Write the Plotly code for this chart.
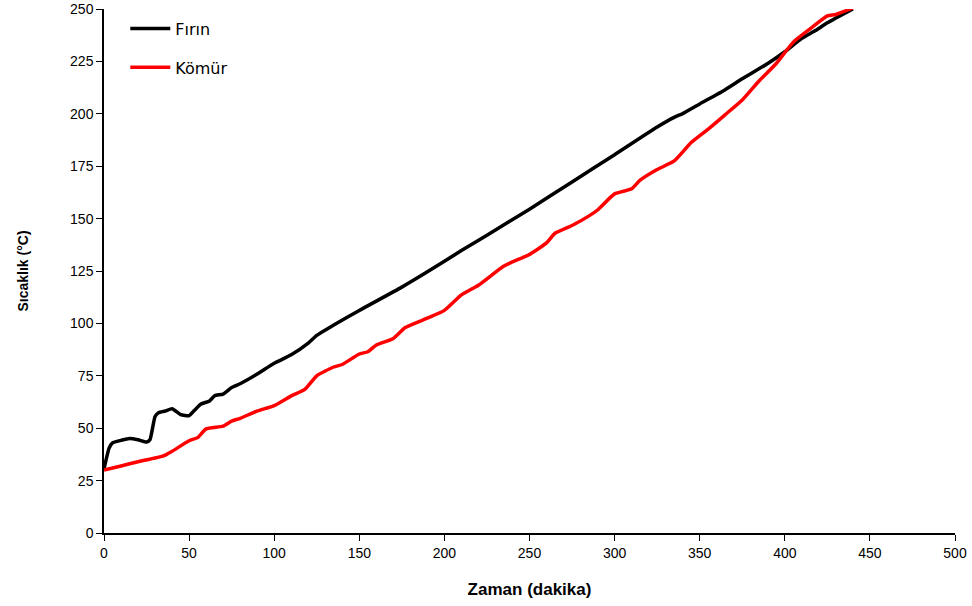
import plotly.graph_objects as go

# Fırın (oven) series
firin_x = [0, 3, 5, 10, 15, 20, 25, 27, 30, 32, 36, 40, 45, 50, 53, 57, 62, 65, 70, 75, 80, 90, 100,
           110, 120, 125, 135, 150, 175, 200, 210, 225, 250, 275, 300, 325, 335, 340, 350, 365, 375,
           390, 400, 410, 418, 425, 440]
firin_y = [30.5, 40.5, 43, 44.2, 45.1, 44.5, 43.4, 44.5, 55.6, 57.4, 58.2, 59.3, 56.5, 56, 58.4, 61.5,
           63, 65.5, 66.3, 69.4, 71.2, 75.8, 81, 85, 90.6, 94.3, 99.2, 106.2, 117.3, 129.6, 134.8,
           142.1, 154.5, 167.5, 180.5, 193.7, 198.3, 200.1, 204.7, 211.5, 216.7, 224, 229.6, 236, 239.7,
           243.4, 250]

# Kömür (charcoal) series
komur_x = [0, 10, 20, 35, 40, 50, 55, 60, 70, 75, 80, 90, 100, 110, 118, 125, 135, 140, 150, 155, 160,
           170, 177, 190, 200, 210, 220, 235, 250, 260, 265, 275, 285, 290, 300, 310, 315, 325, 335,
           345, 355, 365, 375, 385, 395, 405, 415, 425, 430, 440]
komur_y = [30, 32, 34, 36.8, 39, 44, 45.5, 49.7, 51, 53.4, 54.7, 58.2, 60.8, 65.4, 68.5, 75, 79.2, 80.4,
           85.4, 86.5, 89.7, 92.8, 98, 102.5, 106.2, 113.6, 118.2, 127.4, 132.9, 138.4, 143, 146.7,
           151.3, 154.1, 161.8, 164.2, 168.3, 173.4, 177.5, 186.3, 192.7, 199.6, 206.6, 215.8, 224,
           234.2, 240.6, 246.7, 247.4, 250.5]

x_ticks = [0, 50, 100, 150, 200, 250, 300, 350, 400, 450, 500]
y_ticks = [0, 25, 50, 75, 100, 125, 150, 175, 200, 225, 250]

regular = "Liberation Sans, Arial"
legend_font = "DejaVu Sans, Verdana"

fig = go.Figure()
fig.add_trace(go.Scatter(x=firin_x, y=firin_y, mode="lines", name="Fırın", legendgroup="f",
                         line=dict(color="black", width=3.5, shape="spline", smoothing=0.5)))
fig.add_trace(go.Scatter(x=komur_x, y=komur_y, mode="lines", name="Kömür", legendgroup="k",
                         line=dict(color="red", width=3.5, shape="spline", smoothing=0.5)))

axis_common = dict(showgrid=False, zeroline=False, showline=True, linecolor="black", linewidth=1.5,
                   ticks="outside", ticklen=6, tickwidth=1, tickcolor="black", automargin=False)

fig.update_layout(
    width=972, height=606,
    margin=dict(l=104, r=17, t=9, b=73),
    plot_bgcolor="white", paper_bgcolor="white",
    font=dict(family=regular, size=13, color="black"),
    xaxis=dict(range=[0, 500], tickvals=x_ticks, ticktext=[str(v) for v in x_ticks],
               tickfont=dict(family=regular, size=14),
               title=dict(text="<b>Zaman (dakika)</b>", standoff=24,
                          font=dict(family=regular, size=17)),
               **axis_common),
    yaxis=dict(range=[0, 250], tickvals=y_ticks, ticktext=[str(v) for v in y_ticks],
               tickfont=dict(family=regular, size=14),
               title=dict(text="<b>Sıcaklık (°C)</b>", standoff=38,
                          font=dict(family=regular, size=14)),
               **axis_common),
    showlegend=True,
    legend=dict(x=0.025, y=0.995, xanchor="left", yanchor="top", bgcolor="rgba(0,0,0,0)",
                tracegroupgap=15, itemwidth=40,
                font=dict(family=legend_font, size=16)),
)

fig.write_html("out.html", config={"displayModeBar": False},
               post_script="document.body.style.margin='0';document.body.style.padding='0';")
